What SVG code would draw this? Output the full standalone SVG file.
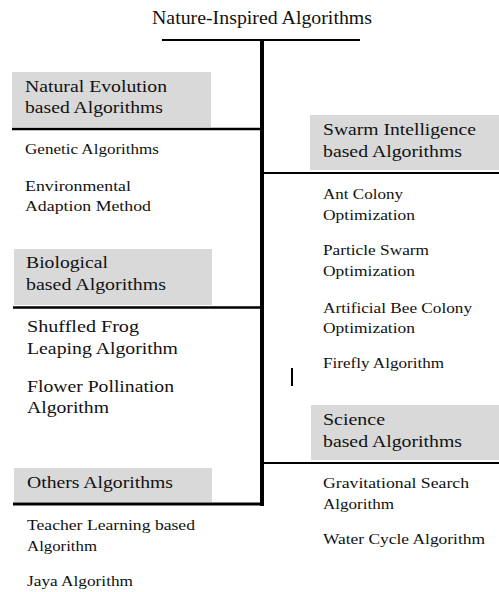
<svg xmlns="http://www.w3.org/2000/svg" width="499" height="592" viewBox="0 0 499 592">
<style>
text{font-family:"Liberation Serif","Times New Roman",serif;fill:#111}
.t{font-size:18px}
.h{font-size:17px}
.i{font-size:15px}
.b{fill:#d9d9d9}
.ln{stroke:#000;fill:none}
</style>
<rect width="499" height="592" fill="#fff"/>
<g id="connectors">
<line class="ln" x1="162" y1="40" x2="360" y2="40" stroke-width="2"/>
<line class="ln" x1="262" y1="39" x2="262" y2="506" stroke-width="4"/>
<line class="ln" x1="12" y1="129" x2="262" y2="129" stroke-width="2.5"/>
<line class="ln" x1="13" y1="307.5" x2="262" y2="307.5" stroke-width="2.5"/>
<line class="ln" x1="13" y1="504" x2="262" y2="504" stroke-width="3"/>
<line class="ln" x1="262" y1="173" x2="499" y2="173" stroke-width="2"/>
<line class="ln" x1="262" y1="463" x2="499" y2="463" stroke-width="2"/>
<line class="ln" x1="292" y1="368" x2="292" y2="386" stroke-width="2"/>
</g>
<g id="root"><text class="t" x="152" y="24" textLength="220" lengthAdjust="spacingAndGlyphs">Nature-Inspired Algorithms</text></g>
<g id="natural">
<rect class="b" x="12" y="72" width="199" height="55"/>
<text class="h" x="25" y="92" textLength="142" lengthAdjust="spacingAndGlyphs">Natural Evolution</text>
<text class="h" x="25" y="113" textLength="138" lengthAdjust="spacingAndGlyphs">based Algorithms</text>
</g>
<g id="genetic"><text class="i" x="25" y="154" textLength="134" lengthAdjust="spacingAndGlyphs">Genetic Algorithms</text></g>
<g id="eam"><text class="i" x="25" y="190.5" textLength="106" lengthAdjust="spacingAndGlyphs">Environmental</text><text class="i" x="25" y="211" textLength="126" lengthAdjust="spacingAndGlyphs">Adaption Method</text></g>
<g id="biological">
<rect class="b" x="14" y="249" width="198" height="56"/>
<text class="h" x="26" y="268" textLength="82" lengthAdjust="spacingAndGlyphs">Biological</text>
<text class="h" x="26" y="290" textLength="140" lengthAdjust="spacingAndGlyphs">based Algorithms</text>
</g>
<g id="sfla"><text class="h" x="27" y="331.5" textLength="112" lengthAdjust="spacingAndGlyphs">Shuffled Frog</text><text class="h" x="27" y="354" textLength="151" lengthAdjust="spacingAndGlyphs">Leaping Algorithm</text></g>
<g id="fpa"><text class="h" x="27" y="391.5" textLength="147" lengthAdjust="spacingAndGlyphs">Flower Pollination</text><text class="h" x="27" y="413" textLength="82" lengthAdjust="spacingAndGlyphs">Algorithm</text></g>
<g id="others">
<rect class="b" x="14" y="468" width="198" height="34"/>
<text class="h" x="27" y="488" textLength="146" lengthAdjust="spacingAndGlyphs">Others Algorithms</text>
</g>
<g id="tlbo"><text class="i" x="27" y="530" textLength="168" lengthAdjust="spacingAndGlyphs">Teacher Learning based</text><text class="i" x="27" y="551" textLength="70" lengthAdjust="spacingAndGlyphs">Algorithm</text></g>
<g id="jaya"><text class="i" x="27" y="586" textLength="106" lengthAdjust="spacingAndGlyphs">Jaya Algorithm</text></g>
<g id="swarm">
<rect class="b" x="310" y="115" width="189" height="55"/>
<text class="h" x="323" y="135" textLength="153" lengthAdjust="spacingAndGlyphs">Swarm Intelligence</text>
<text class="h" x="323" y="156.5" textLength="139" lengthAdjust="spacingAndGlyphs">based Algorithms</text>
</g>
<g id="aco"><text class="i" x="323" y="199" textLength="80" lengthAdjust="spacingAndGlyphs">Ant Colony</text><text class="i" x="323" y="220" textLength="92" lengthAdjust="spacingAndGlyphs">Optimization</text></g>
<g id="pso"><text class="i" x="323" y="255" textLength="106" lengthAdjust="spacingAndGlyphs">Particle Swarm</text><text class="i" x="323" y="276" textLength="92" lengthAdjust="spacingAndGlyphs">Optimization</text></g>
<g id="abc"><text class="i" x="323" y="312.5" textLength="149" lengthAdjust="spacingAndGlyphs">Artificial Bee Colony</text><text class="i" x="323" y="333" textLength="92" lengthAdjust="spacingAndGlyphs">Optimization</text></g>
<g id="firefly"><text class="i" x="323" y="368" textLength="121" lengthAdjust="spacingAndGlyphs">Firefly Algorithm</text></g>
<g id="science">
<rect class="b" x="311" y="405" width="188" height="55"/>
<text class="h" x="323" y="425" textLength="62" lengthAdjust="spacingAndGlyphs">Science</text>
<text class="h" x="323" y="446.5" textLength="139" lengthAdjust="spacingAndGlyphs">based Algorithms</text>
</g>
<g id="gsa"><text class="i" x="323" y="488" textLength="146" lengthAdjust="spacingAndGlyphs">Gravitational Search</text><text class="i" x="323" y="509" textLength="71" lengthAdjust="spacingAndGlyphs">Algorithm</text></g>
<g id="wca"><text class="i" x="323" y="544" textLength="162" lengthAdjust="spacingAndGlyphs">Water Cycle Algorithm</text></g>
</svg>
